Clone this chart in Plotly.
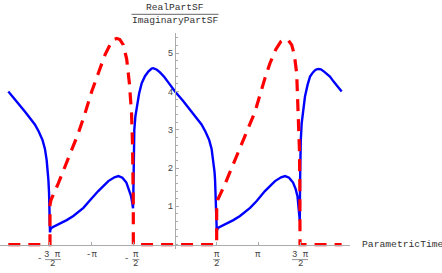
import math
import plotly.graph_objects as go

# ---------------- data ----------------
blue_x = [
    -6.283, -5.983, -5.653, -5.283, -5.133, -4.993, -4.903, -4.838, -4.793, -4.773, -4.748, -4.735, -4.723, -4.717, -4.7124,
    -4.693, -4.633, -4.483, -4.273, -4.083, -3.833, -3.453, -3.203, -2.893, -2.513, -2.283, -2.133, -1.983, -1.833, -1.733, -1.663, -1.613, -1.583,
    -1.569, -1.563, -1.548, -1.534, -1.493, -1.444, -1.353, -1.255, -1.133, -1.006, -0.883, -0.818, -0.683, -0.566, -0.403, -0.253, -0.083,
    0.0, 0.30, 0.63, 1.00, 1.15, 1.29, 1.38, 1.445, 1.49, 1.51, 1.535, 1.548, 1.560, 1.566, 1.5708,
    1.59, 1.65, 1.80, 2.01, 2.20, 2.45, 2.83, 3.08, 3.39, 3.77, 4.00, 4.15, 4.30, 4.45, 4.55, 4.62, 4.67, 4.705,
    4.714, 4.722, 4.74, 4.775, 4.83, 4.90, 5.00, 5.09, 5.20, 5.30, 5.40, 5.50, 5.62, 5.74, 5.84, 5.98, 6.13, 6.283,
]
blue_y = [
    4.00, 3.76, 3.47, 3.14, 2.95, 2.73, 2.50, 2.21, 1.90, 1.69, 1.35, 1.10, 0.80, 0.55, 0.32,
    0.40, 0.45, 0.50, 0.57, 0.64, 0.75, 0.96, 1.16, 1.40, 1.66, 1.76, 1.79, 1.75, 1.62, 1.45, 1.28, 1.10, 0.95,
    1.40, 1.95, 2.60, 3.00, 3.35, 3.61, 3.95, 4.22, 4.40, 4.52, 4.60, 4.61, 4.57, 4.50, 4.38, 4.24, 4.08,
    4.00, 3.76, 3.47, 3.14, 2.95, 2.73, 2.50, 2.21, 1.90, 1.69, 1.35, 1.10, 0.80, 0.55, 0.32,
    0.40, 0.45, 0.50, 0.57, 0.64, 0.75, 0.96, 1.14, 1.40, 1.66, 1.76, 1.79, 1.75, 1.62, 1.45, 1.25, 0.95, 0.62,
    1.60, 2.13, 2.70, 3.17, 3.55, 3.87, 4.18, 4.39, 4.50, 4.57, 4.59, 4.58, 4.52, 4.45, 4.39, 4.26, 4.13, 4.00,
]

red_x = [
    -6.283, -4.7124, -4.711, -4.674, -4.399, -4.146, -3.894, -3.645, -3.392, -3.140, -2.891, -2.639, -2.45, -2.30, -2.197,
    -2.08, -1.949, -1.88, -1.821, -1.72, -1.64, -1.60, -1.58, -1.572, -1.5708,
    1.5708, 1.572, 1.609, 1.884, 2.137, 2.389, 2.638, 2.891, 3.015, 3.392, 3.58, 3.80, 3.98, 4.146,
    4.28, 4.40, 4.50, 4.587, 4.65, 4.69, 4.706, 4.711, 4.7124, 6.283,
]
red_y = [
    0.0, 0.0, 1.05, 1.17, 1.60, 2.04, 2.47, 2.91, 3.43, 4.00, 4.48, 4.96, 5.22, 5.36, 5.39,
    5.36, 5.22, 5.05, 4.85, 4.22, 3.45, 2.60, 1.80, 1.00, 0.0,
    0.0, 1.05, 1.17, 1.58, 2.00, 2.42, 2.85, 3.30, 3.47, 4.35, 4.74, 5.10, 5.30, 5.37,
    5.33, 5.22, 4.95, 4.48, 3.44, 2.50, 1.60, 1.00, 0.0, 0.0,
]

x_tick_vals = [-3 * math.pi / 2, -math.pi, -math.pi / 2, math.pi / 2, math.pi, 3 * math.pi / 2]
x_tick_sign = ["-", "-", "-", "", "", ""]
x_tick_num = ["3 π", "π", "π", "π", "π", "3 π"]
x_tick_den = ["2", "", "2", "2", "", "2"]
y_tick_vals = [1, 2, 3, 4, 5]
y_tick_text = ["1", "2", "3", "4", "5"]

x_label = "ParametricTime"
y_label_num = "RealPartSF"
y_label_den = "ImaginaryPartSF"

# ---------------- figure ----------------
FONT = "Liberation Mono"
AX = "#ababab"
TXT = "#444444"

x_range = [-6.597, 6.597]
y_range = [-0.115, 5.53]

fig = go.Figure()
fig.add_trace(go.Scatter(x=blue_x, y=blue_y, mode="lines",
                         line=dict(color="#0000ff", width=2.4), showlegend=False,
                         hoverinfo="skip"))
fig.add_trace(go.Scatter(x=red_x, y=red_y, mode="lines",
                         line=dict(color="#ff0000", width=3.2, dash="12px,8px"),
                         showlegend=False, hoverinfo="skip"))

x_pos = (0 - y_range[0]) / (y_range[1] - y_range[0])
y_pos = (0 - x_range[0]) / (x_range[1] - x_range[0])

annotations = []
shapes = []

# x tick labels (stacked fractions)
for v, s, n, d in zip(x_tick_vals, x_tick_sign, x_tick_num, x_tick_den):
    if d:
        wide = len(n) > 1
        off = (3 if wide else 2.5) if s else 0
        half = 8 if wide else 3.5
        annotations.append(dict(x=v, y=0, xref="x", yref="paper", text=n, showarrow=False,
                                xanchor="center", yanchor="middle", xshift=off, yshift=-6.3,
                                font=dict(family=FONT, size=9, color=TXT)))
        annotations.append(dict(x=v, y=0, xref="x", yref="paper", text=d, showarrow=False,
                                xanchor="center", yanchor="middle", xshift=off, yshift=-15.2,
                                font=dict(family=FONT, size=9, color=TXT)))
        shapes.append(dict(type="line", xref="x", yref="paper", xsizemode="pixel", ysizemode="pixel",
                           xanchor=v, yanchor=0, x0=off - half, x1=off + half, y0=-10.6, y1=-10.6,
                           line=dict(color="#777777", width=0.8)))
        if s:
            annotations.append(dict(x=v, y=0, xref="x", yref="paper", text=s, showarrow=False,
                                    xanchor="center", yanchor="middle",
                                    xshift=(-10.5 if wide else -6.5), yshift=-10.4,
                                    font=dict(family=FONT, size=9, color=TXT)))
    else:
        annotations.append(dict(x=v, y=0, xref="x", yref="paper", text=s + n, showarrow=False,
                                xanchor="center", yanchor="middle", xshift=0, yshift=-6.3,
                                font=dict(family=FONT, size=9, color=TXT)))

# axis labels
annotations.append(dict(x=0, y=1, xref="x", yref="paper", text=y_label_num, showarrow=False,
                        xanchor="center", yanchor="middle", yshift=25.7,
                        font=dict(family=FONT, size=9.6, color="#333333")))
annotations.append(dict(x=0, y=1, xref="x", yref="paper", text=y_label_den, showarrow=False,
                        xanchor="center", yanchor="middle", yshift=12.3,
                        font=dict(family=FONT, size=9.6, color="#333333")))
shapes.append(dict(type="line", xref="x", yref="paper", xsizemode="pixel", ysizemode="pixel",
                   xanchor=0, yanchor=1, x0=-43.5, x1=43.5, y0=18.7, y1=18.7,
                   line=dict(color="#555555", width=0.9)))
annotations.append(dict(x=1, y=0, xref="paper", yref="y", text=x_label, showarrow=False,
                        xanchor="left", yanchor="middle", xshift=10,
                        font=dict(family=FONT, size=9.7, color="#333333")))

fig.update_layout(
    width=442, height=273,
    margin=dict(l=0, r=92, t=33, b=24),
    paper_bgcolor="white", plot_bgcolor="white",
    showlegend=False,
    annotations=annotations,
    shapes=shapes,
    xaxis=dict(range=x_range, showgrid=False, zeroline=False, showline=True,
               linecolor=AX, linewidth=1, anchor="free", position=x_pos,
               tickmode="array", tickvals=x_tick_vals, ticks="inside", ticklen=3,
               tickcolor=AX, showticklabels=False, fixedrange=True),
    yaxis=dict(range=y_range, showgrid=False, zeroline=False, showline=True,
               linecolor=AX, linewidth=1, anchor="free", position=y_pos,
               tickmode="array", tickvals=y_tick_vals, ticktext=y_tick_text,
               ticks="inside", ticklen=3, tickcolor=AX,
               minor=dict(ticks="inside", ticklen=1.5, tickcolor=AX, dtick=0.2, tick0=0),
               tickfont=dict(family=FONT, size=9, color=TXT), fixedrange=True),
)

fig.write_html("out.html", config={"displayModeBar": False},
               post_script="document.body.style.margin='0px';document.body.style.overflow='hidden';")
